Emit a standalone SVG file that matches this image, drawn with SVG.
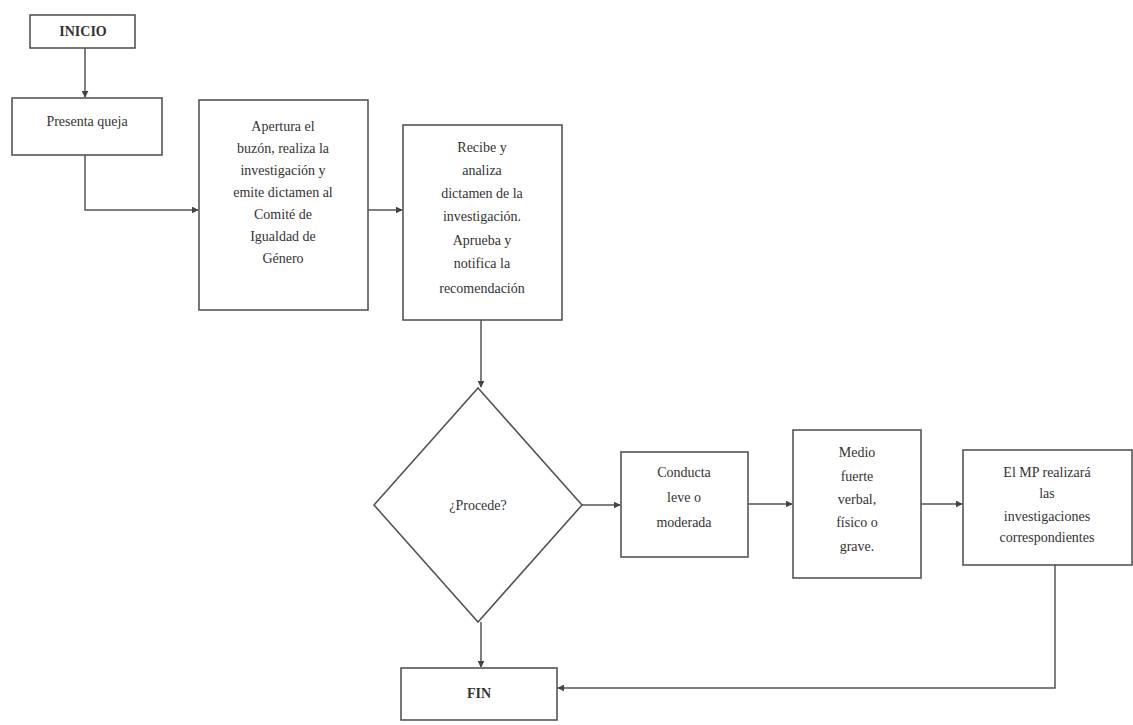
<svg xmlns="http://www.w3.org/2000/svg" width="1133" height="725" viewBox="0 0 1133 725">
<defs>
<style>
.box{fill:#fff;stroke:#555;stroke-width:1.6}
.t{font-family:"Liberation Serif",serif;font-size:14px;fill:#333;text-anchor:middle}
.b{font-weight:bold}
.c{fill:none;stroke:#555;stroke-width:1.5}
</style>
<marker id="ah" viewBox="0 0 10 10" refX="9" refY="5" markerWidth="7" markerHeight="7" orient="auto" markerUnits="userSpaceOnUse">
<path d="M0,0 L10,5 L0,10 z" fill="#444"/>
</marker>
</defs>
<rect width="1133" height="725" fill="#fff"/>
<g id="connectors">
<path class="c" d="M85,48 V97" marker-end="url(#ah)"/>
<path class="c" d="M85,155 V210 H198" marker-end="url(#ah)"/>
<path class="c" d="M368,210 H402" marker-end="url(#ah)"/>
<path class="c" d="M481,320 V387" marker-end="url(#ah)"/>
<path class="c" d="M582,505 H620" marker-end="url(#ah)"/>
<path class="c" d="M748,504 H792" marker-end="url(#ah)"/>
<path class="c" d="M921,504 H962" marker-end="url(#ah)"/>
<path class="c" d="M481,622 V667" marker-end="url(#ah)"/>
<path class="c" d="M1055,565 V688 H558" marker-end="url(#ah)"/>
</g>
<g id="inicio">
<rect class="box" x="30" y="15" width="105" height="33"/>
<text class="t b" x="83" y="36">INICIO</text>
</g>
<g id="presenta">
<rect class="box" x="12" y="98" width="150" height="57"/>
<text class="t" x="87" y="126">Presenta queja</text>
</g>
<g id="apertura">
<rect class="box" x="199" y="100" width="169" height="210"/>
<text class="t" x="283" y="131">Apertura el</text>
<text class="t" x="283" y="153">buzón, realiza la</text>
<text class="t" x="283" y="175">investigación y</text>
<text class="t" x="283" y="197">emite dictamen al</text>
<text class="t" x="283" y="219">Comité de</text>
<text class="t" x="283" y="241">Igualdad de</text>
<text class="t" x="283" y="263">Género</text>
</g>
<g id="recibe">
<rect class="box" x="403" y="125" width="159" height="195"/>
<text class="t" x="482" y="152">Recibe y</text>
<text class="t" x="482" y="175">analiza</text>
<text class="t" x="482" y="198">dictamen de la</text>
<text class="t" x="482" y="221">investigación.</text>
<text class="t" x="482" y="245">Aprueba y</text>
<text class="t" x="482" y="268">notifica la</text>
<text class="t" x="482" y="293">recomendación</text>
</g>
<g id="procede">
<polygon class="box" points="478,388 582,505 478,622 374,505"/>
<text class="t" x="478" y="510">¿Procede?</text>
</g>
<g id="conducta">
<rect class="box" x="621" y="452" width="127" height="105"/>
<text class="t" x="684" y="477">Conducta</text>
<text class="t" x="684" y="502">leve o</text>
<text class="t" x="684" y="527">moderada</text>
</g>
<g id="medio">
<rect class="box" x="793" y="430" width="128" height="148"/>
<text class="t" x="857" y="457">Medio</text>
<text class="t" x="857" y="481">fuerte</text>
<text class="t" x="857" y="504">verbal,</text>
<text class="t" x="857" y="527">físico o</text>
<text class="t" x="857" y="551">grave.</text>
</g>
<g id="mp">
<rect class="box" x="963" y="450" width="169" height="115"/>
<text class="t" x="1047" y="477">El MP realizará</text>
<text class="t" x="1047" y="498">las</text>
<text class="t" x="1047" y="521">investigaciones</text>
<text class="t" x="1047" y="542">correspondientes</text>
</g>
<g id="fin">
<rect class="box" x="401" y="668" width="156" height="52"/>
<text class="t b" x="479" y="698">FIN</text>
</g>
</svg>
